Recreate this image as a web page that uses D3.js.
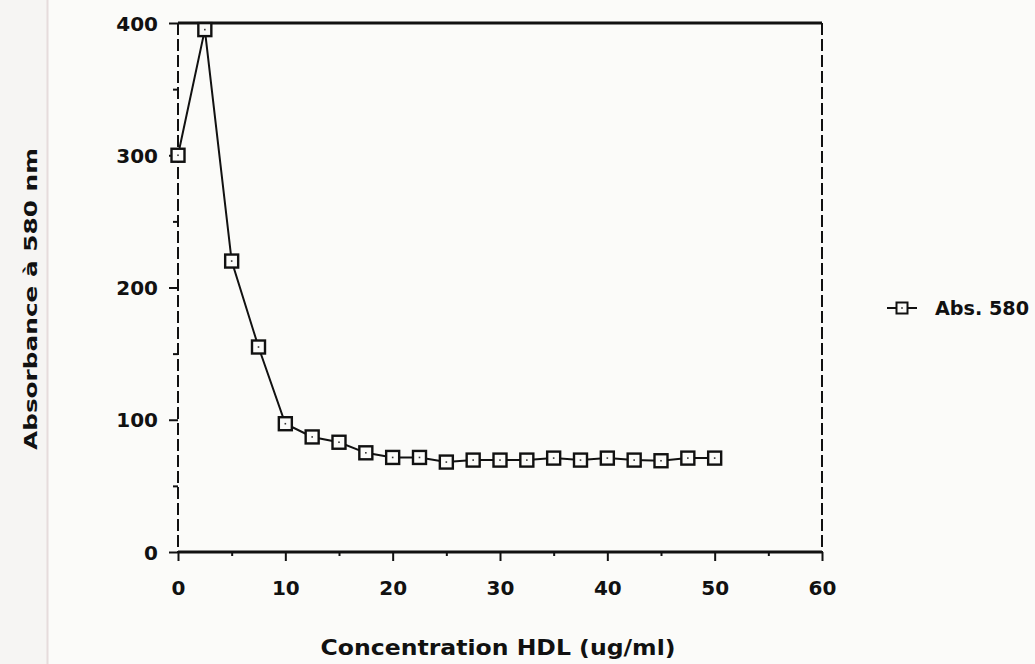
<!DOCTYPE html>
<html>
<head>
<meta charset="utf-8">
<script src="https://cdn.jsdelivr.net/npm/d3@7"></script>
<style>
  html, body { margin: 0; padding: 0; background: #fbfbf9; }
  svg { display: block; }
</style>
</head>
<body>
<svg id="chart" width="1035" height="664"></svg>
<script>
const concentrations = [0, 2.5, 5, 7.5, 10, 12.5, 15, 17.5, 20, 22.5, 25, 27.5, 30, 32.5, 35, 37.5, 40, 42.5, 45, 47.5, 50];
const absorbance = [300, 395, 220, 155, 97, 87, 83, 75, 71.5, 71.5, 68, 69.5, 69.5, 69.5, 71, 69.5, 71, 69.5, 69, 71, 71];
const xTicks = [0, 10, 20, 30, 40, 50, 60];
const yTicks = [0, 100, 200, 300, 400];
const seriesName = "Abs. 580";
const xTitle = "Concentration HDL (ug/ml)";
const yTitle = "Absorbance à 580 nm";

(function () {
const svg = d3.select("#chart");
const mLeft = 178, mRight = 822, mTop = 23, mBottom = 552;
const x = d3.scaleLinear().domain([0, 60]).range([mLeft, mRight]);
const y = d3.scaleLinear().domain([0, 400]).range([mBottom, mTop]);
const font = "'DejaVu Sans', sans-serif";

// scan edge
svg.append("rect").attr("x", 0).attr("y", 0).attr("width", 47).attr("height", 664).attr("fill", "#f6f5f3");
svg.append("line").attr("x1", 47.5).attr("x2", 47.5).attr("y1", 0).attr("y2", 664)
  .attr("stroke", "#e6dcdc").attr("stroke-width", 2);

// frame: top solid, right dashed
svg.append("line").attr("x1", mLeft).attr("x2", mRight).attr("y1", mTop).attr("y2", mTop)
  .attr("stroke", "#111").attr("stroke-width", 3);
svg.append("line").attr("x1", mRight).attr("x2", mRight).attr("y1", mTop).attr("y2", mBottom)
  .attr("stroke", "#111").attr("stroke-width", 2).attr("stroke-dasharray", "12,4");

// y axis (dashed line)
const yAxis = d3.axisLeft(y).tickValues(d3.range(0, 401, 50)).tickSize(8)
  .tickFormat(d => yTicks.includes(d) ? d : "");
const gy = svg.append("g").attr("transform", `translate(${mLeft},0)`).call(yAxis);
gy.select(".domain").remove();
gy.selectAll(".tick line").attr("stroke", "#111").attr("stroke-width", 2)
  .attr("x2", d => yTicks.includes(d) ? -9 : -5);
gy.selectAll(".tick text").attr("font-family", font).attr("font-weight", "bold")
  .attr("font-size", 20).attr("fill", "#111").attr("x", -20).attr("dy", "0.36em");
svg.append("line").attr("x1", mLeft).attr("x2", mLeft).attr("y1", mTop).attr("y2", mBottom)
  .attr("stroke", "#111").attr("stroke-width", 2).attr("stroke-dasharray", "12,4");

// x axis
const xAxis = d3.axisBottom(x).tickValues(d3.range(0, 61, 5)).tickSize(8)
  .tickFormat(d => xTicks.includes(d) ? d : "");
const gx = svg.append("g").attr("transform", `translate(0,${mBottom})`).call(xAxis);
gx.select(".domain").attr("stroke", "#111").attr("stroke-width", 3).attr("d", `M${mLeft},0H${mRight}`);
gx.selectAll(".tick line").attr("stroke", "#111").attr("stroke-width", 2)
  .attr("y2", d => xTicks.includes(d) ? 9 : 4);
gx.selectAll(".tick text").attr("font-family", font).attr("font-weight", "bold")
  .attr("font-size", 20).attr("fill", "#111").attr("y", 36).attr("dy", "0.36em");

// data line
const pts = concentrations.map((c, i) => [c, absorbance[i]]);
svg.append("path").datum(pts)
  .attr("d", d3.line().x(d => x(d[0])).y(d => y(d[1])))
  .attr("fill", "none").attr("stroke", "#111").attr("stroke-width", 2);

// markers
const m = svg.append("g").selectAll("g").data(pts).join("g")
  .attr("transform", d => `translate(${x(d[0])},${y(d[1])})`);
m.append("rect").attr("x", -6.5).attr("y", -6.5).attr("width", 13).attr("height", 13)
  .attr("fill", "#fbfbf9").attr("stroke", "#111").attr("stroke-width", 2.4);
m.append("rect").attr("x", -0.8).attr("y", -0.8).attr("width", 1.6).attr("height", 1.6).attr("fill", "#333");

// legend
const lg = svg.append("g").attr("transform", "translate(902,308)");
lg.append("line").attr("x1", -15).attr("x2", 15).attr("y1", 0).attr("y2", 0)
  .attr("stroke", "#111").attr("stroke-width", 2);
lg.append("rect").attr("x", -5.5).attr("y", -5.5).attr("width", 11).attr("height", 11)
  .attr("fill", "#fbfbf9").attr("stroke", "#111").attr("stroke-width", 2);
lg.append("rect").attr("x", -0.8).attr("y", -0.8).attr("width", 1.6).attr("height", 1.6).attr("fill", "#333");
lg.append("text").attr("x", 33).attr("y", 0).attr("dy", "0.36em")
  .attr("font-family", font).attr("font-size", 19).attr("font-weight", 600).attr("fill", "#111")
  .attr("textLength", 94).attr("lengthAdjust", "spacingAndGlyphs")
  .text(seriesName);

// titles
svg.append("text").attr("x", 498).attr("y", 655)
  .attr("text-anchor", "middle").attr("font-family", font).attr("font-weight", "bold")
  .attr("font-size", 21).attr("fill", "#111")
  .attr("textLength", 355).attr("lengthAdjust", "spacingAndGlyphs").text(xTitle);
svg.append("text").attr("transform", "translate(31,299) rotate(-90)")
  .attr("text-anchor", "middle").attr("dy", "0.36em").attr("font-family", font).attr("font-weight", "bold")
  .attr("font-size", 18).attr("fill", "#111")
  .attr("textLength", 302).attr("lengthAdjust", "spacingAndGlyphs").text(yTitle);
})();
</script>
</body>
</html>
